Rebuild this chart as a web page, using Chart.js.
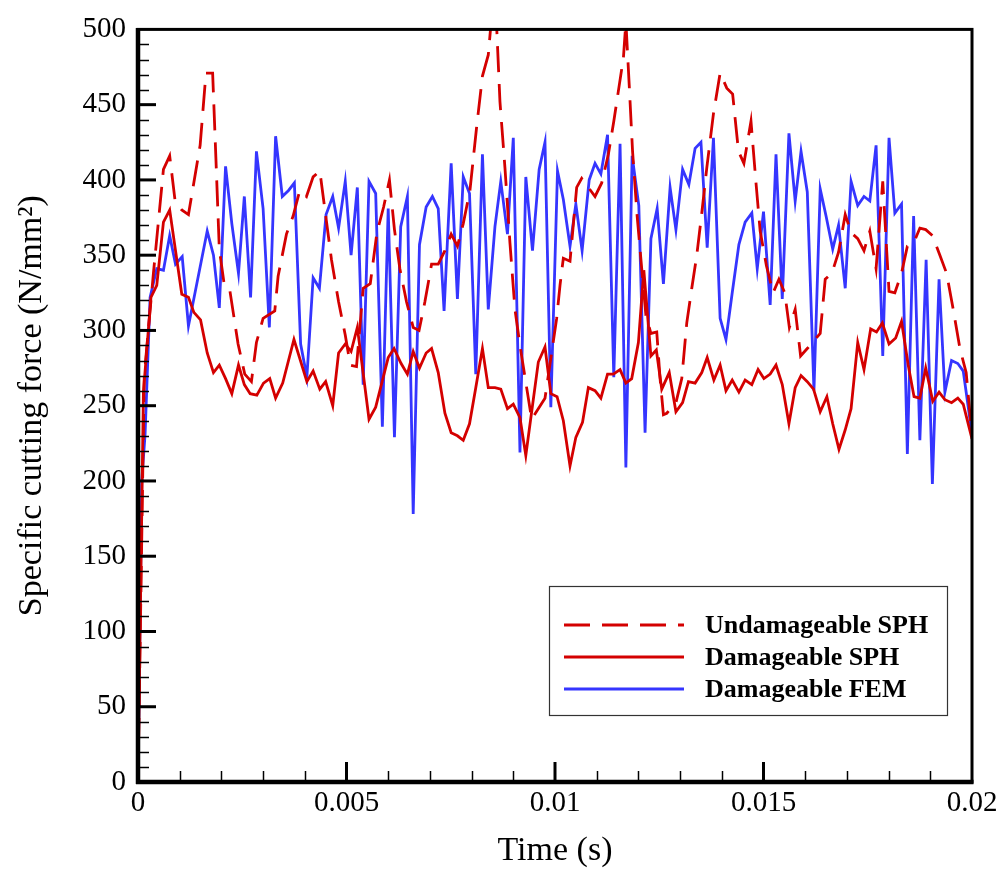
<!DOCTYPE html>
<html><head><meta charset="utf-8">
<script src="https://cdn.jsdelivr.net/npm/chart.js@4.4.1/dist/chart.umd.min.js"></script>
<style>html,body{margin:0;padding:0;background:#fff}canvas{display:block}</style>
</head><body>
<canvas id="c" width="1003" height="871"></canvas>
<script>
// ---------------- data (time in s, specific cutting force in N/mm^2) ----------------
const undamSphTime = [0,0.00015,0.00037,0.00061,0.00076,0.00089,0.00105,0.00121,0.00149,0.00163,0.00179,0.00187,0.00195,0.00207,0.0022,0.0024,0.00256,0.00272,0.00284,0.003,0.00328,0.00336,0.00356,0.00372,0.00388,0.00404,0.0042,0.00436,0.00464,0.00481,0.00497,0.00509,0.00524,0.0054,0.00557,0.00573,0.00589,0.00603,0.00615,0.00628,0.00644,0.0066,0.00674,0.00688,0.00704,0.0072,0.00736,0.00751,0.00766,0.0078,0.00796,0.00812,0.00826,0.0084,0.0085,0.00858,0.00868,0.0088,0.00892,0.00904,0.00916,0.00924,0.00944,0.00976,0.01004,0.01012,0.0102,0.01036,0.01052,0.01064,0.01096,0.01112,0.01128,0.01141,0.01164,0.0117,0.01178,0.01186,0.01197,0.01208,0.01218,0.0123,0.01244,0.01252,0.0126,0.01268,0.0129,0.01304,0.01316,0.01328,0.0134,0.01352,0.01364,0.0138,0.01396,0.01412,0.01426,0.0144,0.01453,0.0147,0.01482,0.01492,0.01507,0.01523,0.01537,0.01551,0.01562,0.01576,0.01589,0.01605,0.01636,0.01648,0.01664,0.0168,0.01696,0.0171,0.01726,0.01741,0.01755,0.0177,0.01786,0.01801,0.01815,0.01831,0.01845,0.0186,0.01875,0.01889,0.01905,0.01923,0.01939,0.01955,0.01971,0.01986,0.02];
const undamSphForce = [0,270,338,407,416,386,380,377,423,471,471,413,354,330,327,291,271,266,292,308,313,336,364,376,393,389,402,406,347,319,297,277,276,328,331,365,382,400,367,341,319,302,300,319,344,344,353,364,356,371,393,435,469,483,515,515,452,408,358,314,290,276,241,255,308,330,348,346,395,401,389,398,417,439,481,505,463,419,376,341,310,298,299,268,244,245,252,268,305,328,350,378,408,444,471,461,457,419,411,439,398,366,343,325,334,325,302,314,283,288,298,334,338,352,377,365,361,353,366,341,399,326,325,338,356,358,368,367,363,350,338,314,288,272,230];

const damSphTime = [0,0.00013,0.00031,0.00045,0.00061,0.00076,0.00105,0.00121,0.00134,0.0015,0.00166,0.00181,0.00195,0.0021,0.00225,0.00241,0.00255,0.00269,0.00285,0.00301,0.00316,0.0033,0.00347,0.00374,0.00405,0.0042,0.00436,0.0045,0.00467,0.00481,0.00497,0.00511,0.00526,0.00554,0.0057,0.006,0.00614,0.00631,0.00646,0.0066,0.00675,0.00691,0.00704,0.0072,0.00736,0.00751,0.00766,0.0078,0.00795,0.0081,0.00826,0.0084,0.00856,0.0087,0.00886,0.009,0.00916,0.0093,0.0096,0.00976,0.0099,0.01005,0.0102,0.01036,0.0105,0.01066,0.0108,0.01096,0.0111,0.01126,0.0114,0.01156,0.0117,0.01184,0.012,0.01213,0.0123,0.01243,0.01256,0.01274,0.0129,0.01306,0.0132,0.01336,0.01352,0.01365,0.01381,0.01396,0.0141,0.01425,0.01441,0.01456,0.01472,0.01487,0.01501,0.01516,0.0153,0.01545,0.01561,0.01576,0.0159,0.01605,0.0162,0.01636,0.01652,0.01666,0.01681,0.01696,0.0171,0.01726,0.01741,0.01757,0.01771,0.01785,0.01801,0.01817,0.01831,0.01847,0.01861,0.01875,0.01889,0.01906,0.01921,0.01935,0.01951,0.01966,0.01979,0.02];
const damSphForce = [0,259,322,330,372,380,324,322,312,307,285,272,277,268,258,277,264,258,257,265,268,255,265,294,266,273,261,266,250,285,291,286,302,241,249,282,288,278,271,286,275,285,288,272,245,232,230,227,238,262,288,262,262,261,248,251,242,217,279,289,258,256,240,210,229,239,262,260,255,271,271,274,265,268,292,340,283,287,261,272,246,252,266,265,272,282,267,277,260,267,259,267,264,274,268,271,277,264,238,262,270,266,261,246,256,238,221,234,248,292,274,301,299,305,291,295,306,277,256,255,275,253,259,254,252,255,251,228];

const damFemTime = [0,0.00009,0.00017,0.00029,0.00045,0.00061,0.00076,0.0009,0.00106,0.00121,0.00166,0.00181,0.00195,0.0021,0.00225,0.00241,0.00255,0.0027,0.00284,0.003,0.00315,0.0033,0.00346,0.00361,0.00375,0.0039,0.00405,0.0042,0.00435,0.00451,0.00467,0.00481,0.00497,0.00511,0.00526,0.0054,0.00554,0.0057,0.00586,0.006,0.00615,0.0063,0.00646,0.0066,0.00675,0.00691,0.00706,0.0072,0.00734,0.00751,0.00766,0.0078,0.00795,0.0081,0.00826,0.0084,0.00856,0.0087,0.00886,0.009,0.00916,0.0093,0.00946,0.00962,0.00976,0.0099,0.01006,0.0102,0.01036,0.0105,0.01065,0.01082,0.01096,0.0111,0.01126,0.01141,0.01156,0.0117,0.01185,0.01201,0.01216,0.0123,0.01245,0.0126,0.01276,0.0129,0.01306,0.01321,0.01336,0.0135,0.01365,0.0138,0.01396,0.0141,0.01425,0.01441,0.01456,0.01472,0.01485,0.015,0.01516,0.0153,0.01545,0.01561,0.01576,0.0159,0.01605,0.01621,0.01636,0.0165,0.01666,0.0168,0.01696,0.0171,0.01726,0.01741,0.01755,0.0177,0.01786,0.01801,0.01815,0.01831,0.01845,0.0186,0.01875,0.0189,0.01905,0.01921,0.01935,0.01951,0.01966,0.01979,0.02];
const damFemForce = [0,200,231,322,341,340,363,344,349,303,366,350,315,409,371,338,389,322,419,381,302,429,389,393,398,291,269,335,328,377,389,368,399,350,395,264,399,391,236,381,229,369,389,178,357,382,389,381,313,411,321,402,391,271,417,314,369,399,364,428,219,402,353,407,425,249,406,387,356,384,353,400,411,404,430,269,424,209,416,383,232,361,381,331,395,367,407,397,421,425,355,428,308,294,325,357,372,378,341,379,317,417,321,431,386,419,392,260,394,376,354,370,328,399,383,389,386,423,283,428,378,384,218,376,227,347,198,334,259,280,278,273,231];

const seriesNames = ['Undamageable SPH', 'Damageable SPH', 'Damageable FEM'];
const xTickValues = [0, 0.005, 0.01, 0.015, 0.02];
const xTickLabels = ['0', '0.005', '0.01', '0.015', '0.02'];
const yMin = 0, yMax = 500, yStep = 50;

// ---------------- chart ----------------
const RED = '#d40000', BLUE = '#3535ff';
const SERIF = "'Liberation Serif','Times New Roman',Times,serif";
const pts = (t, f) => t.map((v, i) => ({x: v, y: f[i]}));

const framePlugin = {
  id: 'frame',
  afterDatasetsDraw(chart) {
    const {ctx, chartArea: a, scales: {x, y}} = chart;
    const seg = (x1, y1, x2, y2) => { ctx.beginPath(); ctx.moveTo(x1, y1); ctx.lineTo(x2, y2); ctx.stroke(); };
    ctx.save();
    ctx.strokeStyle = '#000';
    ctx.lineCap = 'butt';
    // minor ticks
    ctx.lineWidth = 1.5;
    for (let v = yMin + 10; v < yMax; v += 10) {
      if (v % yStep === 0) continue;
      const py = Math.round(y.getPixelForValue(v)) + 0.5;
      seg(a.left, py, a.left + 11, py);
    }
    for (let i = 1; i < 20; i++) {
      if (i % 5 === 0) continue;
      const px = Math.round(x.getPixelForValue(i * 0.001)) + 0.5;
      seg(px, a.bottom, px, a.bottom - 11);
    }
    // major ticks
    ctx.lineWidth = 3;
    for (let v = yMin + yStep; v < yMax; v += yStep) {
      const py = y.getPixelForValue(v);
      seg(a.left, py, a.left + 18, py);
    }
    xTickValues.slice(1, -1).forEach(v => {
      const px = x.getPixelForValue(v);
      seg(px, a.bottom, px, a.bottom - 20);
    });
    // frame
    ctx.lineWidth = 3;
    ctx.strokeRect(a.left, a.top, a.right - a.left, a.bottom - a.top);
    ctx.lineWidth = 4.5;
    seg(a.left, a.top - 1.5, a.left, a.bottom + 2);
    seg(a.left - 2, a.bottom, a.right + 1.5, a.bottom);
    ctx.restore();
  }
};

const legendPlugin = {
  id: 'boxLegend',
  afterDraw(chart) {
    const ctx = chart.ctx;
    const bx = 549, by = 586, bw = 398, bh = 129;
    ctx.save();
    ctx.fillStyle = '#fff';
    ctx.fillRect(bx, by, bw, bh);
    ctx.strokeStyle = '#333';
    ctx.lineWidth = 1.2;
    ctx.strokeRect(bx + 0.5, by + 0.5, bw, bh);
    const rows = [625, 657, 689];
    chart.data.datasets.forEach((ds, i) => {
      const yy = rows[i];
      ctx.strokeStyle = ds.borderColor;
      ctx.lineWidth = ds.borderWidth;
      ctx.setLineDash(ds.borderDash || []);
      ctx.beginPath(); ctx.moveTo(564, yy); ctx.lineTo(684, yy); ctx.stroke();
      ctx.setLineDash([]);
      ctx.fillStyle = '#000';
      ctx.font = 'bold 26px ' + SERIF;
      ctx.textBaseline = 'middle';
      ctx.textAlign = 'left';
      ctx.fillText(ds.label, 705, yy + 1);
    });
    ctx.restore();
  }
};

new Chart(document.getElementById('c'), {
  type: 'line',
  data: {
    datasets: [
      {label: seriesNames[0], data: pts(undamSphTime, undamSphForce), borderColor: RED, borderWidth: 2.8, borderDash: [26, 12], pointRadius: 0, tension: 0, fill: false},
      {label: seriesNames[1], data: pts(damSphTime, damSphForce), borderColor: RED, borderWidth: 2.8, pointRadius: 0, tension: 0, fill: false},
      {label: seriesNames[2], data: pts(damFemTime, damFemForce), borderColor: BLUE, borderWidth: 2.8, pointRadius: 0, tension: 0, fill: false}
    ]
  },
  options: {
    responsive: false,
    animation: false,
    devicePixelRatio: 1,
    layout: {padding: {left: 0, top: 20, right: 31, bottom: 0}},
    plugins: {legend: {display: false}, tooltip: {enabled: false}},
    scales: {
      x: {
        type: 'linear', min: 0, max: 0.02,
        afterBuildTicks: s => { s.ticks = xTickValues.map(v => ({value: v})); },
        afterFit: s => { s.height = 89; },
        grid: {display: false, drawTicks: false},
        border: {display: false},
        ticks: {
          padding: 4, color: '#000', maxRotation: 0, autoSkip: false,
          font: {family: SERIF, size: 29},
          callback: (v, i) => xTickLabels[xTickValues.indexOf(v)] ?? ''
        },
        title: {display: true, text: 'Time (s)', color: '#000', font: {family: SERIF, size: 34, lineHeight: 1}, padding: {top: 0, bottom: 3}}
      },
      y: {
        type: 'linear', min: yMin, max: yMax,
        afterFit: s => { s.width = 138; },
        grid: {display: false, drawTicks: false},
        border: {display: false},
        ticks: {stepSize: yStep, padding: 12, color: '#000', font: {family: SERIF, size: 29}},
        title: {display: true, text: 'Specific cutting force (N/mm²)', color: '#000', font: {family: SERIF, size: 34, lineHeight: 1}, padding: {top: 15, bottom: 0}}
      }
    }
  },
  plugins: [framePlugin, legendPlugin]
});
</script>
</body></html>
